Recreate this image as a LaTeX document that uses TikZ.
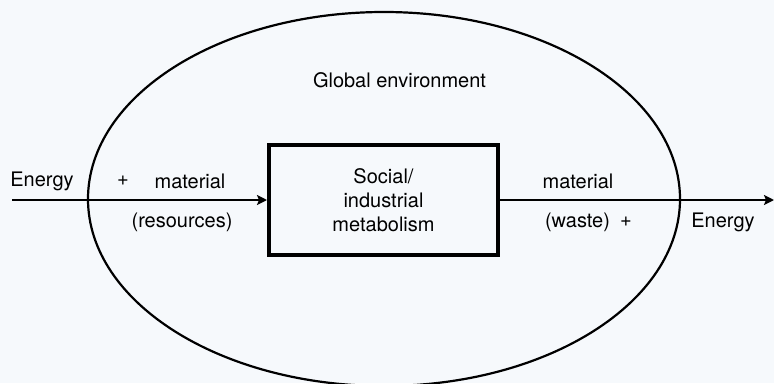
\documentclass[tikz,border=0pt]{standalone}
\usepackage{fontspec}
\setmainfont{TeX Gyre Heros}
\usetikzlibrary{shapes.geometric, arrows.meta, positioning}
\definecolor{bgpaper}{RGB}{246,249,252}

\begin{document}
\begin{tikzpicture}[x=1pt, y=-1pt,
    every node/.style={font=\fontsize{20}{24}\selectfont},
    flow/.style={line width=2.2pt, -{Stealth[length=10pt, width=10pt, inset=2pt]}},
    txt/.style={inner sep=0pt, anchor=center}]
    \fill[bgpaper] (0,0) rectangle (774,383);
    \useasboundingbox (0,0) rectangle (774,383);
    \node[ellipse, draw, line width=2.2pt, minimum width=592pt, minimum height=374pt, inner sep=0pt] (env) at (384,199) {};
    \node[draw, line width=4pt, minimum width=229pt, minimum height=110pt, align=center] (meta) at (383.5,200) {Social/\\industrial\\metabolism};
    \coordinate (src) at (12,200);
    \coordinate (sink) at (774,200);
    \draw[flow] (src) -- (meta.west);
    \draw[flow] (meta.east) -- (sink);
    \node[txt] (envlbl) at (399.5,80) {Global environment};
    % inputs
    \node[txt] (ein) at (42,181) {Energy};
    \node[txt] (pin) at (123,181) {+};
    \node[txt] (min) at (190,181) {material};
    \node[txt] (res) at (182,222) {(resources)};
    % outputs
    \node[txt] (mout) at (578,181) {material};
    \node[txt] (waste) at (577.5,222) {(waste)};
    \node[txt] (pout) at (626,222) {+};
    \node[txt] (eout) at (723,222) {Energy};
\end{tikzpicture}
\end{document}
